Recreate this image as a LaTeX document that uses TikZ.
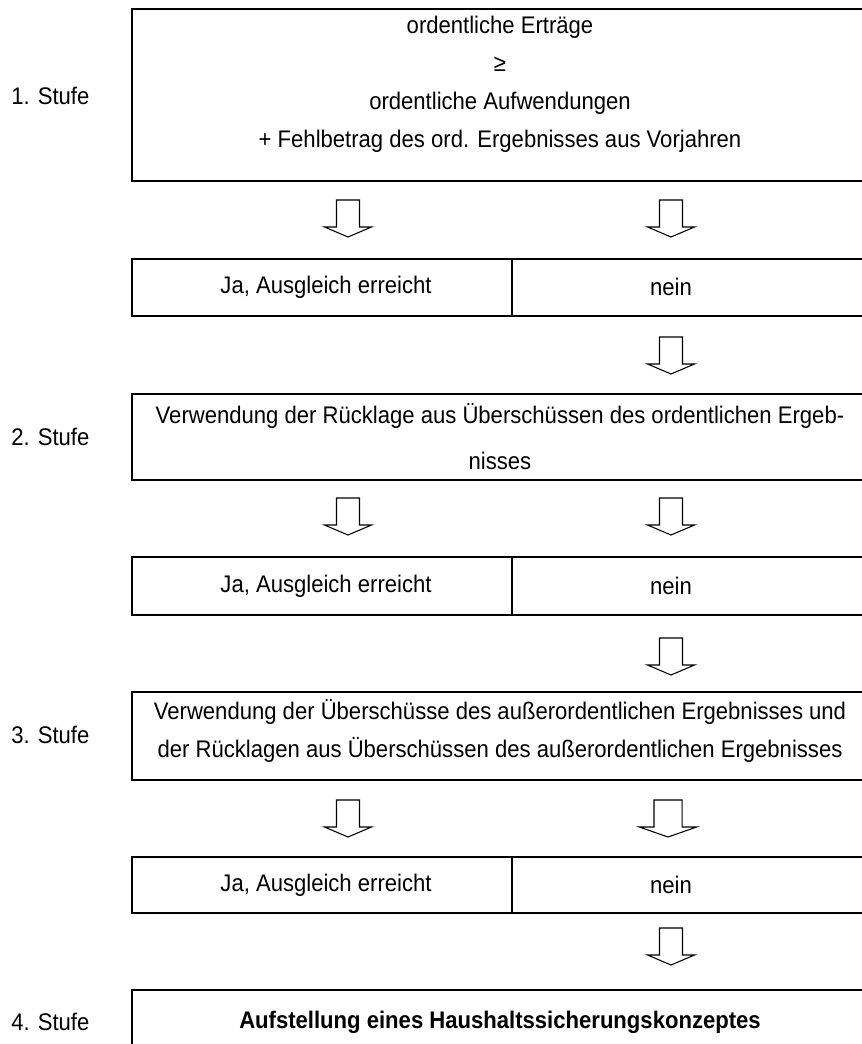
\documentclass[tikz,border=0pt]{standalone}
\usepackage{fontspec}
\setmainfont[FakeStretch=0.92]{Liberation Sans}
\def\px{0.75pt}

\begin{document}
\begin{tikzpicture}[x=\px,y=-\px,
  every node/.style={font=\fontsize{18pt}{28.5pt}\selectfont},
  stufe/.style={anchor=west,inner sep=0pt},
  box/.style={draw,line width=1.5pt,inner sep=0pt,outer sep=0pt,anchor=north west},
  txt/.style={align=center,inner sep=0pt},
  pfeil/.style={draw,line width=0.8pt,fill=white},
  down/.pic={\path[pfeil] (-11.5,0) -- (11.5,0) -- (11.5,27) -- (23.5,27)
      -- (0,37) -- (-23.5,27) -- (-11.5,27) -- cycle;}]
\useasboundingbox (0,0) rectangle (861,1044);

% Stufe 1
\node [stufe] (s1) at (11,96) {1. Stufe};
\node [box,minimum width=736*\px,minimum height=172*\px] (b1) at (132,9) {};
\node [txt] (t1) at (500,84) {ordentliche Erträge\\ ≥\\ ordentliche Aufwendungen\\
  + Fehlbetrag des ord. Ergebnisses aus Vorjahren};
\pic at (348,200) {down};
\pic at (671,200) {down};
\node [box,minimum width=380*\px,minimum height=57*\px] (ja1) at (132,259) {};
\node [box,minimum width=356*\px,minimum height=57*\px] (nein1) at (ja1.north east) {};
\node [txt] (tja1) at (326,287) {Ja, Ausgleich erreicht};
\node [txt] (tnein1) at (671,287) {nein};
\pic at (671,337) {down};

% Stufe 2
\node [stufe] (s2) at (11,437) {2. Stufe};
\node [box,minimum width=736*\px,minimum height=86*\px] (b2) at (132,394) {};
\node [txt] (t2) at (500,437) {Verwendung der Rücklage aus Überschüssen des ordentlichen Ergeb-\\[6pt]
  nisses};
\pic at (348,498) {down};
\pic at (671,498) {down};
\node [box,minimum width=380*\px,minimum height=58*\px] (ja2) at (132,557) {};
\node [box,minimum width=356*\px,minimum height=58*\px] (nein2) at (ja2.north east) {};
\node [txt] (tja2) at (326,586) {Ja, Ausgleich erreicht};
\node [txt] (tnein2) at (671,586) {nein};
\pic at (671,638) {down};

% Stufe 3
\node [stufe] (s3) at (11,735) {3. Stufe};
\node [box,minimum width=736*\px,minimum height=88*\px] (b3) at (132,692) {};
\node [txt] (t3) at (500,731) {Verwendung der Überschüsse des außerordentlichen Ergebnisses und\\
  der Rücklagen aus Überschüssen des außerordentlichen Ergebnisses};
\pic at (348,800) {down};
\pic [xscale=1.22] at (668,800) {down};
\node [box,minimum width=380*\px,minimum height=56*\px] (ja3) at (132,857) {};
\node [box,minimum width=356*\px,minimum height=56*\px] (nein3) at (ja3.north east) {};
\node [txt] (tja3) at (326,885) {Ja, Ausgleich erreicht};
\node [txt] (tnein3) at (671,885) {nein};
\pic at (671,928) {down};

% Stufe 4
\node [stufe] (s4) at (11,1022) {4. Stufe};
\node [box,minimum width=736*\px,minimum height=64*\px] (b4) at (132,990) {};
\node [txt] (t4) at (500,1022) {\bfseries Aufstellung eines Haushaltssicherungskonzeptes};
\end{tikzpicture}
\end{document}
